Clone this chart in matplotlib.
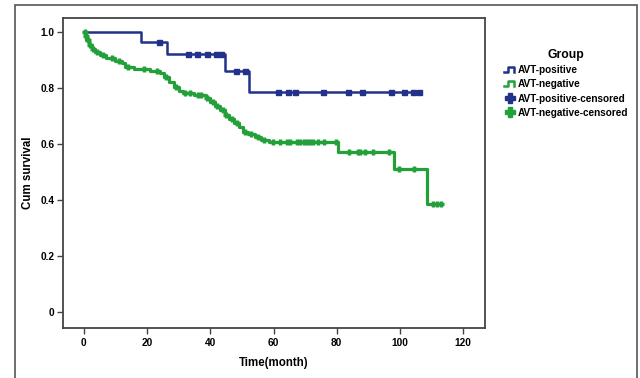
import numpy as np
import matplotlib
matplotlib.use("Agg")
import matplotlib.pyplot as plt
from matplotlib.lines import Line2D
from matplotlib.patches import Rectangle
from matplotlib.legend_handler import HandlerBase

plt.rcParams['font.family'] = ['Liberation Sans', 'DejaVu Sans']

# AVT-positive: step start times and survival levels
pos_t = [0, 18, 26.2, 44.8, 52.1]
pos_s = [1.0, 0.964, 0.921, 0.861, 0.785]
pos_end = 106
pos_cens = [23.8, 32.8, 35.9, 39.1, 41.8, 43.3, 48.0, 51.1, 61.5, 64.7, 66.9,
            75.8, 83.7, 88, 97.1, 101.2, 104.2, 106]

# AVT-negative
neg_t = [0, 0.4, 0.8, 1.5, 2.5, 3.5, 5, 7, 10, 12, 13, 16, 21, 24, 25.5, 27,
         28.5, 30, 31.5, 35, 38.5, 40, 41.5, 43, 44.5, 46, 47.5, 49, 50.5, 52,
         54, 56, 58.5, 80.3, 98, 108.5]
neg_s = [1.0, 0.985, 0.97, 0.955, 0.94, 0.93, 0.918, 0.908, 0.898, 0.888,
         0.876, 0.868, 0.86, 0.852, 0.838, 0.82, 0.805, 0.79, 0.782, 0.775,
         0.765, 0.75, 0.735, 0.72, 0.705, 0.69, 0.675, 0.66, 0.645, 0.635,
         0.625, 0.615, 0.606, 0.571, 0.513, 0.385]
neg_end = 113
neg_cens = [0.3, 0.6, 1.2, 2, 3, 4, 6, 9, 11, 14, 19, 23, 26, 29, 32, 33.5, 36,
            37, 39, 41, 42, 44, 45, 47, 48.5, 51, 53, 55, 57, 59.8, 62, 64.2,
            65.3, 67.5, 68.5, 69.5, 70.5, 71.5, 72.5, 74, 76, 79.7, 84, 86.7,
            87.5, 88.8, 91.5, 96.4, 99.6, 104.4, 110.3, 111.8, 113]

blue = '#22318a'
green = '#23a03a'


def level_at(t, s, x):
    idx = np.searchsorted(t, x, side='right') - 1
    return np.array(s)[idx]


class StepHandler(HandlerBase):
    def create_artists(self, legend, orig_handle, xdescent, ydescent,
                       width, height, fontsize, trans):
        x0 = -xdescent
        y0 = -ydescent
        xs = [x0 + 0.05 * width, x0 + 0.35 * width, x0 + 0.35 * width,
              x0 + 0.85 * width, x0 + 0.85 * width]
        ys = [y0 + 0.15 * height, y0 + 0.15 * height, y0 + 0.85 * height,
              y0 + 0.85 * height, y0 + 0.15 * height]
        ln = Line2D(xs, ys, color=orig_handle.get_color(),
                    lw=orig_handle.get_linewidth(), transform=trans)
        return [ln]


fig = plt.figure(figsize=(6.4, 3.78), dpi=100)
fig.patches.append(Rectangle((15 / 640, -0.05), 622 / 640, 1.05 - 5 / 378,
                             transform=fig.transFigure, fill=False,
                             edgecolor='#555555', lw=1.2))
ax = fig.add_axes([63 / 640, 50 / 378, 422 / 640, 310 / 378])

ax.step(list(pos_t) + [pos_end], list(pos_s) + [pos_s[-1]], where='post',
        color=blue, lw=1.8)
ax.step(list(neg_t) + [neg_end], list(neg_s) + [neg_s[-1]], where='post',
        color=green, lw=2.3)
ax.plot(pos_cens, level_at(pos_t, pos_s, pos_cens), ls='none', marker='s',
        ms=3.6, color=blue)
ax.plot(neg_cens, level_at(neg_t, neg_s, neg_cens), ls='none', marker='+',
        ms=5, mew=2.4, color=green)

ax.set_xlim(-6.6, 126.9)
ax.set_ylim(-0.056, 1.05)
ax.set_xticks([0, 20, 40, 60, 80, 100, 120])
ax.set_yticks([0, 0.2, 0.4, 0.6, 0.8, 1.0])
ax.set_yticklabels(['0', '0.2', '0.4', '0.6', '0.8', '1.0'])
for side in ['left', 'bottom', 'right', 'top']:
    ax.spines[side].set_color('#444444')
    ax.spines[side].set_linewidth(1.3)
ax.tick_params(labelsize=7.3, length=4, width=1, color='#444444')
ax.tick_params(axis='y', pad=2)
for lab in ax.get_xticklabels() + ax.get_yticklabels():
    lab.set_fontweight('bold')
ax.set_xlabel('Time(month)', fontsize=8.3, fontweight='bold', labelpad=6)
ax.set_ylabel('Cum survival', fontsize=8.3, fontweight='bold', labelpad=5)

h1 = Line2D([], [], color=blue, lw=1.8)
h2 = Line2D([], [], color=green, lw=1.8)
h3 = Line2D([], [], color=blue, ls='none', marker='P', ms=6.5)
h4 = Line2D([], [], color=green, ls='none', marker='P', ms=6.5)
leg = fig.legend([h1, h2, h3, h4],
                 ['AVT-positive', 'AVT-negative', 'AVT-positive-censored',
                  'AVT-negative-censored'],
                 loc='upper left', bbox_to_anchor=(498 / 640, 1 - 44 / 378),
                 frameon=False, title='Group', handlelength=1.3,
                 handletextpad=0.15, labelspacing=0.42, borderpad=0,
                 prop={'size': 7.2, 'weight': 'bold'},
                 handler_map={h1: StepHandler(), h2: StepHandler()})
leg.get_title().set_fontsize(8.7)
leg.get_title().set_fontweight('bold')

fig.savefig('out.png', dpi=100)
